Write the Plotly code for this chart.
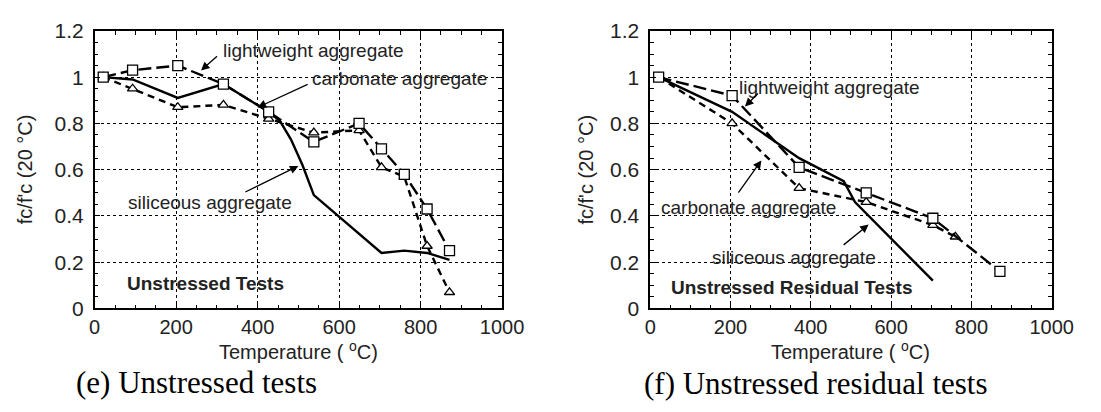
import plotly.graph_objects as go

# ---------------- data ----------------
# (e) Unstressed tests
temp_e = [21, 93, 204, 316, 427, 538, 649, 704, 760, 816, 871]
light_e = [1.0, 1.03, 1.05, 0.97, 0.85, 0.72, 0.80, 0.69, 0.58, 0.43, 0.25]
carb_e = [1.0, 0.95, 0.87, 0.88, 0.82, 0.76, 0.77, 0.61, 0.57, 0.27, 0.07]
temp_sil_e = [21, 93, 204, 316, 427, 455, 482, 510, 538, 704, 760, 816, 871]
sil_e = [1.0, 0.99, 0.91, 0.97, 0.85, 0.81, 0.73, 0.62, 0.49, 0.24, 0.25, 0.24, 0.21]

# (f) Unstressed residual tests
temp_light_f = [21, 204, 371, 538, 704, 871]
light_f = [1.0, 0.92, 0.61, 0.50, 0.39, 0.16]
temp_carb_f = [21, 204, 371, 538, 704, 760]
carb_f = [1.0, 0.80, 0.52, 0.46, 0.36, 0.31]
temp_sil_f = [21, 204, 371, 482, 510, 704]
sil_f = [1.0, 0.85, 0.65, 0.55, 0.46, 0.12]

x_ticks = [0, 200, 400, 600, 800, 1000]
y_ticks = [0, 0.2, 0.4, 0.6, 0.8, 1.0, 1.2]

W, H = 1101, 412
SANS = "Liberation Sans, Arial, sans-serif"
SERIF = "Liberation Serif, Times New Roman, serif"
TXT = "#222222"

fig = go.Figure()

def add_series(xs, ys, xa, ya, dash, symbol, msize):
    mode = "lines+markers" if symbol else "lines"
    marker = dict(symbol=symbol or "circle", size=msize, color="white",
                  line=dict(color="black", width=1.3))
    fig.add_trace(go.Scatter(x=xs, y=ys, xaxis=xa, yaxis=ya, mode=mode,
                             line=dict(color="black", width=2.4, dash=dash),
                             marker=marker, showlegend=False, hoverinfo="skip"))

# panel e
add_series(temp_sil_e, sil_e, "x", "y", "solid", None, 0)
add_series(temp_e, carb_e, "x", "y", "7px,5px", "triangle-up", 9)
add_series(temp_e, light_e, "x", "y", "13px,5px", "square", 10)
# panel f
add_series(temp_sil_f, sil_f, "x2", "y2", "solid", None, 0)
add_series(temp_carb_f, carb_f, "x2", "y2", "7px,5px", "triangle-up", 9)
add_series(temp_light_f, light_f, "x2", "y2", "13px,5px", "square", 10)

ydom = [98 / H, 392 / H]
axis_common = dict(
    showline=True, linecolor="black", linewidth=1.6, mirror="allticks",
    ticks="inside", ticklen=6, tickwidth=1.3, tickcolor="black",
    showgrid=True, gridcolor="black", gridwidth=1.3, griddash="dot",
    zeroline=False,
)
xcommon = dict(axis_common, range=[0, 1000], tickvals=x_ticks,
               ticklabelstandoff=0,
               tickfont=dict(family=SANS, size=20, color=TXT),
               minor=dict(dtick=50, ticks="inside", ticklen=4, tickwidth=1.1,
                          tickcolor="black", showgrid=False))
ycommon = dict(axis_common, range=[0, 1.2], tickvals=y_ticks,
               ticktext=["0", "0.2", "0.4", "0.6", "0.8", "1", "1.2"],
               ticklabelstandoff=5,
               tickfont=dict(family=SANS, size=21, color=TXT),
               minor=dict(dtick=0.05, ticks="inside", ticklen=4, tickwidth=1.1,
                          tickcolor="black", showgrid=False))

fig.update_layout(
    width=W, height=H, autosize=False,
    margin=dict(l=0, r=0, t=0, b=0),
    paper_bgcolor="white", plot_bgcolor="white",
    xaxis=dict(xcommon, domain=[91 / W, 509 / W], anchor="y"),
    yaxis=dict(ycommon, domain=ydom, anchor="x"),
    xaxis2=dict(xcommon, domain=[661 / W, 1073 / W], anchor="y2"),
    yaxis2=dict(ycommon, domain=ydom, anchor="x2"),
)

ann = []

def label(text, x, y, xr, yr, bold=False):
    ann.append(dict(text=f"<b>{text}</b>" if bold else text, x=x, y=y,
                    xref=xr, yref=yr, xanchor="left", yanchor="middle",
                    showarrow=False, font=dict(family=SANS, size=19, color=TXT)))

def arrow(x, y, ax, ay, xr, yr):
    ann.append(dict(text=" ", x=x, y=y, ax=ax, ay=ay, xref=xr, yref=yr,
                    font=dict(size=2),
                    showarrow=True, arrowhead=2, arrowsize=1.3,
                    arrowwidth=1.3, arrowcolor="black"))

# panel e labels
label("lightweight aggregate", 309, 1.114, "x", "y")
label("carbonate aggregate", 529, 0.996, "x", "y")
label("siliceous aggregate", 77, 0.457, "x", "y")
label("Unstressed Tests", 74, 0.110, "x", "y", bold=True)
arrow(261, 1.029, 18, -16, "x", "y")
arrow(400, 0.869, 52, -24, "x", "y")
arrow(500, 0.616, -55, 27, "x", "y")

# panel f labels
label("lightweight aggregate", 216, 0.955, "x2", "y2")
label("carbonate aggregate", 22, 0.437, "x2", "y2")
label("siliceous aggregate", 150, 0.220, "x2", "y2")
label("Unstressed Residual Tests", 46, 0.09, "x2", "y2", bold=True)
arrow(236, 0.873, 15, -15, "x2", "y2")
arrow(277, 0.64, -25, 35, "x2", "y2")
arrow(544, 0.363, -27, 22, "x2", "y2")

# axis titles and captions (paper coords from pixel positions)
def ptext(text, px, py, font, angle=0):
    ann.append(dict(text=text, x=px / W, y=1 - py / H, xref="paper", yref="paper",
                    xanchor="center", yanchor="middle", showarrow=False,
                    textangle=angle, font=font))

tfont = dict(family=SANS, size=20, color=TXT)
ptext("Temperature ( <sup>o</sup>C)", 300, 358, tfont)
ptext("Temperature ( <sup>o</sup>C)", 867, 358, tfont)
ptext("fc/f'c (20 °C)", 19, 167, tfont, -90)
ptext("fc/f'c (20 °C)", 595, 167, tfont, -90)

cfont = dict(family=SERIF, size=31, color="black")
ptext("(e) Unstressed tests", 195, 392, cfont)
ptext("(f) Unstressed residual tests", 831, 393, cfont)

fig.update_layout(annotations=ann)
fig.write_html("out.html")
